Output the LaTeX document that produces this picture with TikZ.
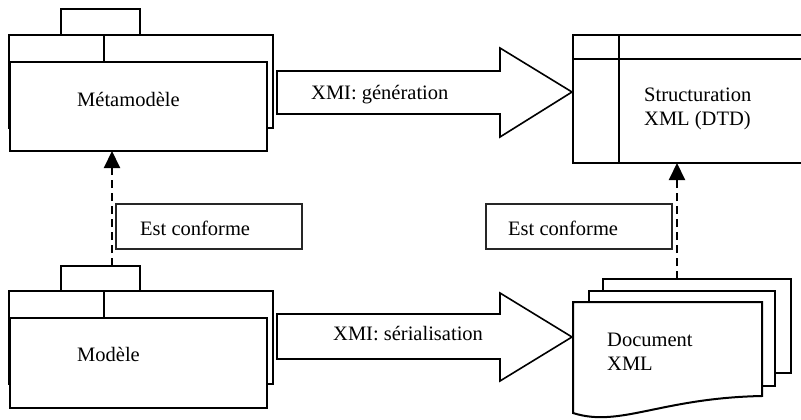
\documentclass[tikz,border=0pt]{standalone}
\usepackage{fontspec}
\setmainfont{Liberation Serif}
\usetikzlibrary{arrows.meta,calc}
\begin{document}
\begin{tikzpicture}[x=1pt,y=-1pt,
  every node/.style={font=\fontsize{20.5}{24}\selectfont},
  pkgline/.style={draw, line width=2.2pt, fill=white},
  pkgfront/.style={pkgline, anchor=north west, inner sep=0pt, outer sep=0pt},
  structline/.style={draw, line width=2.8pt},
  pageline/.style={draw, line width=2pt, fill=white},
  notebox/.style={draw=black!85, line width=1.3pt, anchor=north west,
                  inner sep=0pt, outer sep=0pt},
  blockarrow/.style={draw, line width=1.6pt, fill=white, line join=miter},
  conform/.style={line width=2pt, dash pattern=on 8pt off 5pt,
                  -{Triangle[length=17pt,width=16pt]}},
  txt/.style={anchor=west, inner sep=0pt, align=left}
]
\useasboundingbox (0,0) rectangle (801,420);
\clip (0,0) rectangle (801,420);

% --- package "Métamodèle"
\draw[pkgline] (61,9) rectangle (140,35);
\draw[pkgline] (9,35) rectangle (273,128);
\draw[line width=2.2pt] (104,35) -- (104,62);
\node[pkgfront, minimum width=257pt, minimum height=89pt] (meta) at (10,62) {};
\node[txt] (metalbl) at (77,99) {Métamodèle};

% --- package "Modèle"
\node[pkgfront, minimum width=79pt, minimum height=25pt] (modtab) at (61,266) {};
\draw[pkgline] (9,291) rectangle (273,384);
\draw[line width=2.2pt] (104,291) -- (104,318);
\node[pkgfront, minimum width=257pt, minimum height=90pt] (mod) at (10,318) {};
\node[txt] (modlbl) at (77,354) {Modèle};

% --- class "Structuration XML (DTD)", running past the right border
\node[structline, anchor=north west, inner sep=0pt, outer sep=0pt,
      minimum width=240pt, minimum height=128pt] (struct) at (573,35) {};
\draw[structline] (573,59) -- (813,59);
\draw[structline] (619,35) -- (619,163);
\node[txt] (structlbl) at (644,109) {Structuration\\XML (DTD)};

% --- stacked documents "Document XML"
\node[pageline, anchor=north west, inner sep=0pt, outer sep=0pt,
      minimum width=188pt, minimum height=94pt] (page3) at (603,279) {};
\node[pageline, anchor=north west, inner sep=0pt, outer sep=0pt,
      minimum width=186pt, minimum height=95pt] (page2) at (589,291) {};
\draw[pageline] (573,302) -- (762,302) -- (762,396)
  .. controls (660,398) and (620,428) .. (573,413) -- cycle;
\coordinate (doc) at (573,302);
\node[txt] (doclbl) at (607,352) {Document\\XML};

% --- block arrows
\draw[blockarrow] (277,71) -- (500,71) -- (500,48) -- (572,92)
  -- (500,137) -- (500,114) -- (277,114) -- cycle;
\node[txt] (gen) at (311,95) {XMI: génération};
\draw[blockarrow] (277,314) -- (500,314) -- (500,293) -- (572,337)
  -- (500,381) -- (500,359) -- (277,359) -- cycle;
\node[txt] (ser) at (333,334) {XMI: sérialisation};

% --- "Est conforme" notes
\node[notebox, minimum width=186pt, minimum height=45pt] (note1) at (116,204) {};
\node[txt] at (140,228) {Est conforme};
\node[notebox, minimum width=186pt, minimum height=45pt] (note2) at (486,204) {};
\node[txt] at (508,228) {Est conforme};

% --- conformance links
\coordinate (modtop) at ([xshift=51pt]modtab.north west);
\draw[conform] (modtop) -- (modtop |- meta.south);
\coordinate (doctop) at ([xshift=74pt]page3.north west);
\draw[conform] (doctop) -- (doctop |- struct.south);
\end{tikzpicture}
\end{document}
